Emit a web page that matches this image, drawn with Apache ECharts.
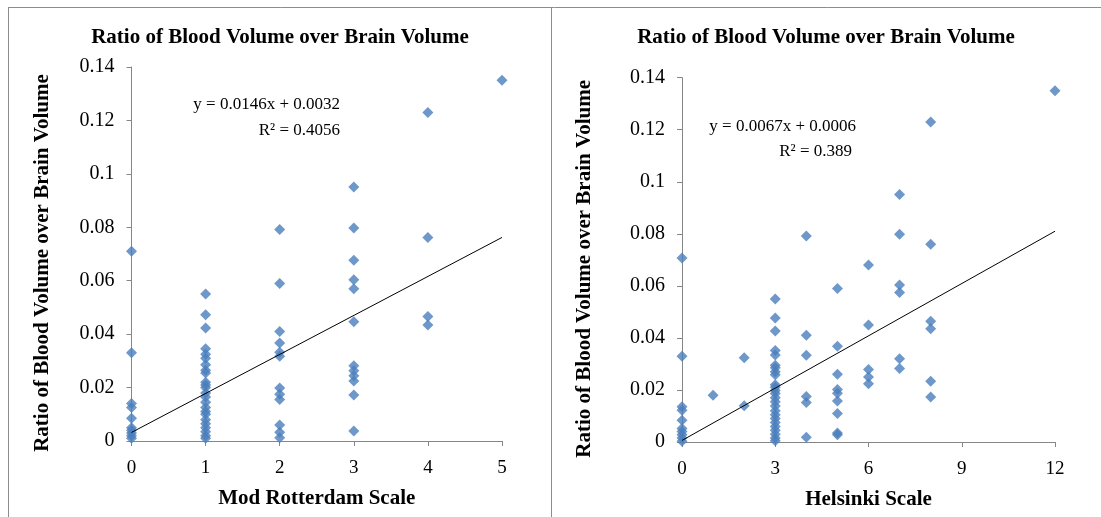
<!DOCTYPE html>
<html>
<head>
<meta charset="utf-8">
<script src="https://cdn.jsdelivr.net/npm/echarts@6/dist/echarts.min.js"></script>
<style>
  html, body { margin: 0; padding: 0; background: #fff; }
  #chart { width: 1101px; height: 517px; }
</style>
</head>
<body>
<div id="chart"></div>
<script>
// Mod Rotterdam panel
const rotterdamScale = [
  0, 0, 0, 0, 0, 0, 0, 0, 0, 0,
  1, 1, 1, 1, 1, 1, 1, 1, 1, 1, 1, 1, 1, 1, 1, 1, 1, 1, 1, 1, 1, 1, 1, 1,
  2, 2, 2, 2, 2, 2, 2, 2, 2, 2, 2, 2,
  3, 3, 3, 3, 3, 3, 3, 3, 3, 3, 3, 3,
  4, 4, 4, 4,
  5
];
const rotterdamRatio = [
  0.071, 0.033, 0.014, 0.0125, 0.0085, 0.005, 0.004, 0.003, 0.002, 0.001,
  0.055, 0.0473, 0.0423, 0.0345, 0.0325, 0.031, 0.0285, 0.0265, 0.0255, 0.022, 0.021, 0.02,
  0.018, 0.0165, 0.0145, 0.0125, 0.011, 0.01, 0.008, 0.0065, 0.005, 0.0035, 0.002, 0.001,
  0.0792, 0.059, 0.041, 0.0367, 0.0332, 0.0317, 0.0198, 0.0175, 0.0155, 0.006, 0.0033, 0.0012,
  0.0951, 0.0797, 0.0677, 0.0604, 0.057, 0.0446, 0.0282, 0.0263, 0.0244, 0.0225, 0.0172, 0.0037,
  0.123, 0.0762, 0.0466, 0.0434,
  0.135
];
const rotterdamFit = { slope: 0.0146, intercept: 0.0032, xEnd: 5 };

// Helsinki panel
const helsinkiScale = [
  0, 0, 0, 0, 0, 0, 0, 0, 0, 0,
  1,
  2, 2,
  3, 3, 3, 3, 3, 3, 3, 3, 3, 3, 3, 3, 3, 3, 3, 3, 3, 3, 3, 3, 3, 3, 3, 3, 3,
  4, 4, 4, 4, 4, 4,
  5, 5, 5, 5, 5, 5, 5, 5, 5,
  6, 6, 6, 6, 6,
  7, 7, 7, 7, 7, 7,
  8, 8, 8, 8, 8, 8,
  12
];
const helsinkiRatio = [
  0.0707, 0.033, 0.0135, 0.0122, 0.0084, 0.0052, 0.004, 0.0028, 0.0015, 0.0003,
  0.018,
  0.0324, 0.0139,
  0.055, 0.0477, 0.0427, 0.0352, 0.0334, 0.0295, 0.0285, 0.027, 0.0258, 0.022, 0.021, 0.0198,
  0.0186, 0.017, 0.0155, 0.0138, 0.012, 0.0105, 0.009, 0.0075, 0.006, 0.0045, 0.003, 0.0015, 0.0005,
  0.0792, 0.041, 0.0333, 0.0175, 0.0152, 0.0018,
  0.059, 0.0368, 0.026, 0.0202, 0.0187, 0.0158, 0.011, 0.0035, 0.0028,
  0.068, 0.045, 0.0279, 0.025, 0.0224,
  0.0951, 0.0798, 0.0603, 0.0575, 0.032, 0.0282,
  0.123, 0.076, 0.0464, 0.0435, 0.0233, 0.0173,
  0.135
];
const helsinkiFit = { slope: 0.0067, intercept: 0.0006, xEnd: 12 };

const titleText = 'Ratio of Blood Volume over Brain Volume';
const yTitle = 'Ratio of Blood Volume over Brain Volume';

const serif = 'Liberation Serif';
const axisGray = '#868686';
const markerBlue = '#4a7ebb';

function pairs(xs, ys) {
  return xs.map((x, i) => [x, ys[i]]);
}
function fitLine(fit) {
  return [[0, fit.intercept], [fit.xEnd, fit.slope * fit.xEnd + fit.intercept]];
}

function xAxisCfg(idx, max, interval, name) {
  return {
    gridIndex: idx, type: 'value', min: 0, max: max, interval: interval,
    name: name, nameLocation: 'middle', nameGap: 47,
    nameTextStyle: { fontFamily: serif, fontWeight: 'bold', fontSize: 21, color: '#000' },
    axisLine: { show: true, lineStyle: { color: axisGray } },
    axisTick: { show: true, length: 5, lineStyle: { color: axisGray } },
    axisLabel: { fontFamily: serif, fontSize: 19, color: '#000', margin: 18 },
    splitLine: { show: false }
  };
}
function yAxisCfg(idx, gap) {
  return {
    gridIndex: idx, type: 'value', min: 0, max: 0.14, interval: 0.02,
    name: yTitle, nameLocation: 'middle', nameGap: gap, nameRotate: 90,
    nameTextStyle: { fontFamily: serif, fontWeight: 'bold', fontSize: 21, color: '#000', padding: [0, 18, 0, 0] },
    axisLine: { show: true, lineStyle: { color: axisGray } },
    axisTick: { show: true, length: 5, lineStyle: { color: axisGray } },
    axisLabel: { fontFamily: serif, fontSize: 20, color: '#000', margin: 17 },
    splitLine: { show: false }
  };
}
function scatterCfg(idx, data) {
  return {
    type: 'scatter', xAxisIndex: idx, yAxisIndex: idx, data: data,
    symbol: 'diamond', symbolSize: 11,
    itemStyle: { color: markerBlue }, silent: true
  };
}
function trendCfg(idx, fit) {
  return {
    type: 'line', xAxisIndex: idx, yAxisIndex: idx, data: fitLine(fit),
    symbol: 'none', lineStyle: { color: '#000', width: 1 }, silent: true, z: 3
  };
}

const eqStyle = { fontFamily: serif, fontSize: 17, fill: '#000', align: 'right', verticalAlign: 'middle' };
const borderStyle = { stroke: '#8c8c8c', lineWidth: 1 };

const chart = echarts.init(document.getElementById('chart'), null, { renderer: 'canvas' });
chart.setOption({
  animation: false,
  backgroundColor: '#fff',
  title: [
    { text: titleText, left: 275, top: 22, textAlign: 'center',
      textStyle: { fontFamily: serif, fontWeight: 'bold', fontSize: 21, color: '#000' } },
    { text: titleText, left: 821, top: 22, textAlign: 'center',
      textStyle: { fontFamily: serif, fontWeight: 'bold', fontSize: 21, color: '#000' } }
  ],
  grid: [
    { left: 131.5, right: 599, top: 67, bottom: 76 },
    { left: 682, right: 46, top: 77.7, bottom: 75 }
  ],
  xAxis: [
    xAxisCfg(0, 5, 1, 'Mod Rotterdam Scale'),
    xAxisCfg(1, 12, 3, 'Helsinki Scale')
  ],
  yAxis: [yAxisCfg(0, 78), yAxisCfg(1, 87)],
  series: [
    scatterCfg(0, pairs(rotterdamScale, rotterdamRatio)),
    trendCfg(0, rotterdamFit),
    scatterCfg(1, pairs(helsinkiScale, helsinkiRatio)),
    trendCfg(1, helsinkiFit)
  ],
  graphic: [
    // panel frames
    { type: 'line', shape: { x1: 8, y1: 7.5, x2: 1101, y2: 7.5 }, style: borderStyle, silent: true },
    { type: 'line', shape: { x1: 8.5, y1: 7, x2: 8.5, y2: 517 }, style: borderStyle, silent: true },
    { type: 'line', shape: { x1: 551.5, y1: 7, x2: 551.5, y2: 517 }, style: borderStyle, silent: true },
    // trendline equations
    { type: 'text', x: 340, y: 105, style: Object.assign({ text: 'y = 0.0146x + 0.0032' }, eqStyle), z: 10 },
    { type: 'text', x: 340, y: 131, style: Object.assign({ text: 'R² = 0.4056' }, eqStyle), z: 10 },
    { type: 'text', x: 856, y: 127, style: Object.assign({ text: 'y = 0.0067x + 0.0006' }, eqStyle), z: 10 },
    { type: 'text', x: 852, y: 152, style: Object.assign({ text: 'R² = 0.389' }, eqStyle), z: 10 }
  ]
});
</script>
</body>
</html>
